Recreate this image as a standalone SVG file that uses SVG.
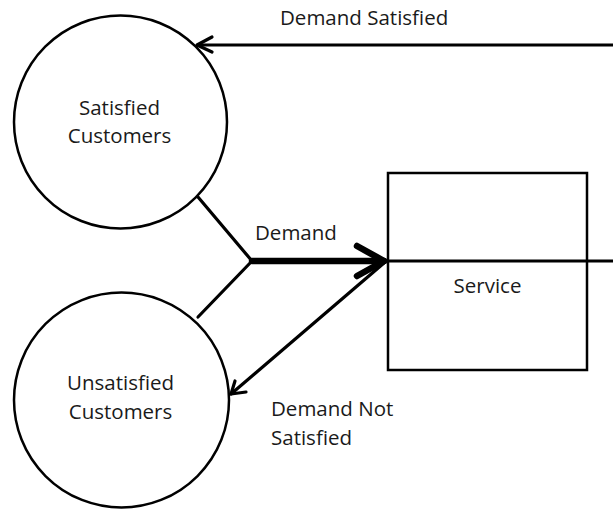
<svg xmlns="http://www.w3.org/2000/svg" width="613" height="510" viewBox="0 0 613 510">
<style>
.node{fill:#fff;stroke:#000;stroke-width:2.5}
.lbl{font-family:"Open Sans","Noto Sans","Liberation Sans",sans-serif;font-size:20.5px;fill:#1a1a1a}
.c{text-anchor:middle}
.ln{fill:none;stroke:#000;stroke-width:3.2;stroke-linecap:round;stroke-linejoin:round}
.thick{fill:none;stroke:#000;stroke-width:6.5;stroke-linecap:round;stroke-linejoin:round}
</style>
<rect width="613" height="510" fill="#fff"/>
<g id="satisfied">
<circle class="node" cx="120.5" cy="122" r="106.5"/>
<text class="lbl c" x="119.5" y="115">Satisfied</text>
<text class="lbl c" x="119.5" y="143">Customers</text>
</g>
<g id="unsatisfied">
<circle class="node" cx="121.5" cy="400" r="107.5"/>
<text class="lbl c" x="120.5" y="390">Unsatisfied</text>
<text class="lbl c" x="120.5" y="419">Customers</text>
</g>
<g id="service">
<rect class="node" x="388" y="173" width="199" height="197"/>
<text class="lbl c" x="487.5" y="293">Service</text>
</g>
<g id="connectors">
<line class="ln" x1="613" y1="45" x2="197" y2="45" style="stroke-linecap:butt"/>
<polyline class="ln" points="212,37 197,45 212,52"/>
<line class="ln" x1="198" y1="197" x2="252" y2="261"/>
<line class="ln" x1="198" y1="317" x2="252" y2="261"/>
<line class="thick" x1="252" y1="261" x2="384" y2="261"/>
<polyline class="thick" points="357,246 384,261 357,276"/>
<line class="ln" x1="388" y1="261" x2="613" y2="261" style="stroke-linecap:butt"/>
<line class="ln" x1="384" y1="263" x2="231" y2="394"/>
<polyline class="ln" points="235,381 231,394 246,392"/>
</g>
<text class="lbl" x="280" y="25">Demand Satisfied</text>
<text class="lbl" x="255" y="240">Demand</text>
<text class="lbl" x="271" y="416">Demand Not</text>
<text class="lbl" x="271" y="445">Satisfied</text>
</svg>
